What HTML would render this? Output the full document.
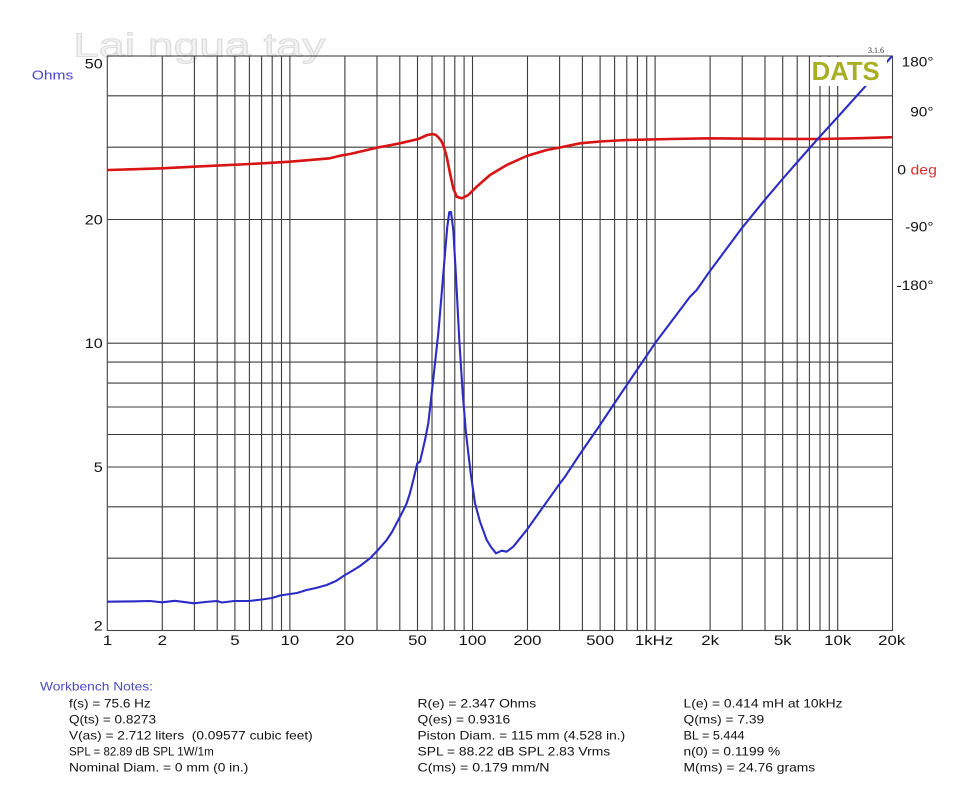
<!DOCTYPE html>
<html><head><meta charset="utf-8"><style>
html,body{margin:0;padding:0;background:#fff;}
svg{display:block;}
</style></head><body>
<svg width="956" height="795" viewBox="0 0 956 795" xmlns="http://www.w3.org/2000/svg" font-family="'Liberation Sans', Arial, sans-serif">
<rect x="0" y="0" width="956" height="795" fill="#fff"/>
<!-- watermark -->
<text x="73.3" y="56.7" font-size="33" textLength="252" lengthAdjust="spacingAndGlyphs" fill="#f3f3f3" stroke="#dcdcdc" stroke-width="1">Lai ngua tay</text>
<!-- grid -->
<g stroke="#3c3c3c" stroke-width="1.1" fill="none">
<path d="M162.3 56V630.5M194.4 56V630.5M217.2 56V630.5M234.9 56V630.5M249.4 56V630.5M261.6 56V630.5M272.2 56V630.5M281.5 56V630.5M289.9 56V630.5M344.9 56V630.5M377.0 56V630.5M399.8 56V630.5M417.5 56V630.5M432.0 56V630.5M444.2 56V630.5M454.8 56V630.5M464.1 56V630.5M472.5 56V630.5M527.5 56V630.5M559.6 56V630.5M582.4 56V630.5M600.1 56V630.5M614.6 56V630.5M626.8 56V630.5M637.4 56V630.5M646.7 56V630.5M655.1 56V630.5M710.1 56V630.5M742.2 56V630.5M765.0 56V630.5M782.7 56V630.5M797.2 56V630.5M809.4 56V630.5M820.0 56V630.5M829.3 56V630.5M837.7 56V630.5"/>
<path d="M107.3 95.8H892.5M107.3 147.2H892.5M107.3 219.5H892.5M107.3 343.2H892.5M107.3 362.1H892.5M107.3 383.1H892.5M107.3 407.0H892.5M107.3 434.5H892.5M107.3 467.0H892.5M107.3 506.8H892.5M107.3 558.2H892.5"/>
<rect x="107.3" y="56" width="785.2" height="574.5" stroke="#444"/>
</g>
<defs><clipPath id="pc"><rect x="107.3" y="56" width="785.2" height="574.5"/></clipPath></defs>
<g clip-path="url(#pc)" fill="none" stroke-linejoin="round" stroke-linecap="round">
<!-- phase (red) -->
<polyline stroke="#d81414" stroke-width="2.6" points="108,170 135,169.2 162,168.3 194,166.7 220,165.4 250,164 290,161.7 330,158.3 340,155.7 350,154 365,150.5 376.7,147.7 400,143.3 418.3,139 427.3,135 432.7,134 436,135 438.3,137.3 441,140.5 443.3,145 446.7,156.7 450,173.3 453.3,188.3 456.7,196.7 461.7,198.3 468.3,195 476.7,186.7 490,175 506.7,165 526.7,156 546.7,150 560,147.5 580,143.3 600,141.5 626.7,140 670,139 710,138.3 760,138.8 820,139 860,138.2 891,137.3"/>
<!-- impedance (blue) -->
<polyline stroke="#2b2bc6" stroke-width="2.1" points="108,601.7 130,601.4 150,601 162,602.3 175,600.8 194,603.3 205,602 217,601 222,602.5 234,601 249,601 262,599.5 272,598 280,595.5 290,594 297,593 306.7,590 316,588 326.7,585 336,581 345,575 352,571 360,566 370,558.3 378,550 386.7,540 392,532 398.3,520 403,511 406.7,503.3 410,493 413.3,480 417.3,463.3 420,461.7 425,440 428.3,423.3 431.7,393.3 435,363.3 438.3,333.3 441.7,293.3 445,253.3 447.3,226.7 449.3,212 451,212 453.3,230 456,276.7 459.3,340 462.7,393.3 466,433.3 470.7,473.3 475,503.3 480,521.7 486.7,540 491,547 496,553.3 501.7,550.7 506.7,551.7 513.3,546.7 526.7,530 543.3,506.7 560,483.3 565,476.7 580,454 600,425 620,395 655,343.3 690,296.7 696.7,290 708.3,273.3 741.7,228.3 763.3,201.7 781.7,180 800,159 818.3,138.3 840,114.5 865,86.7 893,55"/>
</g>
<!-- DATS logo box -->
<rect x="811" y="57" width="76" height="29" fill="#fff"/>
<text x="811.7" y="80" font-size="25.5" font-weight="bold" fill="#a9ae24" textLength="68" lengthAdjust="spacingAndGlyphs">DATS</text>
<text x="868" y="53" font-size="8" font-family="'Liberation Serif', serif" fill="#333">3.1.6</text>
<!-- left axis labels -->
<text transform="translate(31.7,79.3) scale(1.2,1)" font-size="13" fill="#4646cc">Ohms</text>
<g font-size="14" fill="#111" text-anchor="end">
<text transform="translate(102.7,68.3) scale(1.15,1)">50</text>
<text transform="translate(102.7,224.5) scale(1.15,1)">20</text>
<text transform="translate(102.7,348.2) scale(1.15,1)">10</text>
<text transform="translate(102.7,472) scale(1.15,1)">5</text>
<text transform="translate(102.7,630.3) scale(1.15,1)">2</text>
</g>
<!-- right phase labels -->
<g font-size="14" fill="#111">
<text transform="translate(933.5,66.7) scale(1.1,1)" text-anchor="end">180°</text>
<text transform="translate(933.5,116.7) scale(1.1,1)" text-anchor="end">90°</text>
<text transform="translate(897.3,174.5) scale(1.13,1)">0 <tspan fill="#dd3030">deg</tspan></text>
<text transform="translate(933.5,231.7) scale(1.1,1)" text-anchor="end">-90°</text>
<text transform="translate(933.5,290) scale(1.1,1)" text-anchor="end">-180°</text>
</g>
<!-- x axis labels -->
<g font-size="14" fill="#111" text-anchor="middle">
<text transform="translate(107.5,645) scale(1.2,1)">1</text>
<text transform="translate(162.3,645) scale(1.2,1)">2</text>
<text transform="translate(234.9,645) scale(1.2,1)">5</text>
<text transform="translate(289.9,645) scale(1.2,1)">10</text>
<text transform="translate(344.9,645) scale(1.2,1)">20</text>
<text transform="translate(417.5,645) scale(1.2,1)">50</text>
<text transform="translate(472.5,645) scale(1.2,1)">100</text>
<text transform="translate(527.5,645) scale(1.2,1)">200</text>
<text transform="translate(600.1,645) scale(1.2,1)">500</text>
<text transform="translate(654,645) scale(1.2,1)">1kHz</text>
<text transform="translate(710.1,645) scale(1.2,1)">2k</text>
<text transform="translate(782.7,645) scale(1.2,1)">5k</text>
<text transform="translate(837.7,645) scale(1.2,1)">10k</text>
<text transform="translate(891.7,645) scale(1.2,1)">20k</text>
</g>
<!-- notes -->
<text x="40" y="690.5" font-size="12" fill="#4a4ac8" textLength="113" lengthAdjust="spacingAndGlyphs">Workbench Notes:</text>
<g font-size="12" fill="#111">
<text x="69" y="707.5" textLength="81.7" lengthAdjust="spacingAndGlyphs">f(s) = 75.6 Hz</text>
<text x="69" y="723.5" textLength="87" lengthAdjust="spacingAndGlyphs">Q(ts) = 0.8273</text>
<text x="69" y="739.5" textLength="243.7" lengthAdjust="spacingAndGlyphs" xml:space="preserve">V(as) = 2.712 liters  (0.09577 cubic feet)</text>
<text transform="translate(69,755.5) scale(0.96,1)">SPL = 82.89 dB SPL 1W/1m</text>
<text x="69" y="771.5" textLength="179.3" lengthAdjust="spacingAndGlyphs">Nominal Diam. = 0 mm (0 in.)</text>

<text x="417.5" y="707.5" textLength="118.7" lengthAdjust="spacingAndGlyphs">R(e) = 2.347 Ohms</text>
<text x="417.5" y="723.5" textLength="92.7" lengthAdjust="spacingAndGlyphs">Q(es) = 0.9316</text>
<text x="417.5" y="739.5" textLength="207.7" lengthAdjust="spacingAndGlyphs">Piston Diam. = 115 mm (4.528 in.)</text>
<text x="417.5" y="755.5" textLength="192.7" lengthAdjust="spacingAndGlyphs">SPL = 88.22 dB SPL 2.83 Vrms</text>
<text x="417.5" y="771.5" textLength="132" lengthAdjust="spacingAndGlyphs">C(ms) = 0.179 mm/N</text>

<text x="683.5" y="707.5" textLength="159" lengthAdjust="spacingAndGlyphs">L(e) = 0.414 mH at 10kHz</text>
<text x="683.5" y="723.5" textLength="80.7" lengthAdjust="spacingAndGlyphs">Q(ms) = 7.39</text>
<text x="683.5" y="739.5" textLength="61" lengthAdjust="spacingAndGlyphs">BL = 5.444</text>
<text x="683.5" y="755.5" textLength="96.7" lengthAdjust="spacingAndGlyphs">n(0) = 0.1199 %</text>
<text x="683.5" y="771.5" textLength="131.7" lengthAdjust="spacingAndGlyphs">M(ms) = 24.76 grams</text>
</g>
</svg>
</body></html>
